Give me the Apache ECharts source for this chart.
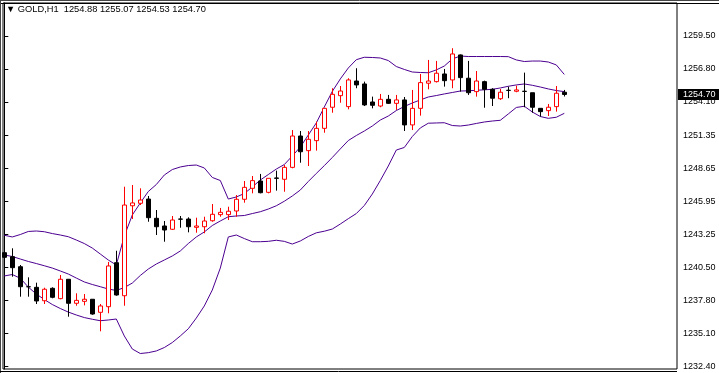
<!DOCTYPE html>
<html><head><meta charset="utf-8">
<script src="https://cdn.jsdelivr.net/npm/echarts@6/dist/echarts.min.js"></script>
<style>html,body{margin:0;padding:0;background:#fff}#c{width:719px;height:373px}</style>
</head><body><div id="c"></div>
<script>
const symbolName = 'GOLD,H1';
const tickLabels = ['1232.40','1235.10','1237.80','1240.50','1243.25','1245.95','1248.65','1251.35','1254.10','1256.80','1259.50'];
const openP = [1241.72,1241.39,1240.57,1238.93,1238.88,1237.78,1238.80,1237.95,1239.54,1237.57,
1237.73,1237.90,1236.83,1237.29,1240.90,1238.19,1245.57,1245.77,1246.12,1244.54,
1243.91,1243.64,1244.48,1244.48,1243.80,1243.85,1244.34,1244.84,1244.84,1245.14,
1246.10,1247.00,1247.60,1246.67,1247.85,1247.74,1248.72,1251.29,1250.09,1250.91,
1251.92,1253.65,1254.60,1253.70,1255.80,1255.56,1254.08,1253.75,1254.30,1253.97,
1254.25,1252.20,1253.56,1255.62,1255.75,1256.38,1255.89,1257.94,1256.03,1254.93,
1255.75,1255.12,1254.35,1255.04,1254.96,1254.96,1254.84,1253.56,1253.37,1253.70,
1254.88];
const highP = [1242.62,1242.08,1240.71,1239.70,1239.26,1238.85,1238.88,1239.89,1239.54,1238.39,
1238.33,1237.90,1237.51,1240.96,1241.88,1247.13,1247.27,1247.00,1246.37,1245.22,
1244.32,1244.73,1244.73,1244.62,1244.59,1244.67,1245.71,1245.39,1245.49,1246.45,
1247.60,1248.01,1248.18,1247.82,1248.45,1248.91,1251.78,1251.70,1251.70,1252.47,
1253.56,1255.21,1255.39,1256.03,1256.85,1255.75,1254.52,1254.74,1254.66,1254.66,
1254.49,1255.07,1256.38,1257.53,1257.45,1256.79,1258.49,1257.98,1257.45,1256.62,
1255.83,1255.21,1255.15,1255.34,1255.42,1256.49,1254.84,1253.56,1253.92,1255.39,
1255.07];
const lowP = [1241.28,1239.75,1238.11,1238.11,1237.51,1237.51,1237.98,1237.90,1236.47,1237.37,
1237.40,1236.63,1235.27,1236.75,1238.19,1237.37,1244.48,1245.63,1244.26,1243.17,
1242.62,1243.58,1243.77,1243.39,1243.36,1243.31,1244.26,1244.67,1244.40,1244.67,
1245.82,1246.59,1246.59,1246.59,1246.81,1246.72,1248.64,1249.10,1248.83,1250.09,
1251.56,1253.20,1254.02,1253.48,1255.21,1253.75,1253.56,1253.65,1253.92,1253.43,
1251.70,1251.78,1252.96,1255.12,1255.68,1255.34,1255.21,1254.93,1254.66,1254.52,
1253.61,1253.75,1254.25,1254.39,1254.88,1253.65,1253.20,1252.88,1252.93,1253.29,
1254.53];
const closeP = [1241.34,1240.49,1238.93,1238.92,1237.76,1238.72,1238.06,1239.54,1237.57,1237.81,
1237.90,1236.69,1237.35,1240.63,1238.25,1245.63,1245.80,1246.04,1244.59,1243.85,
1243.58,1244.40,1244.47,1243.85,1243.91,1244.32,1244.87,1245.03,1245.12,1246.10,
1247.08,1247.63,1246.64,1247.82,1247.82,1248.72,1251.29,1250.00,1251.02,1251.92,
1253.56,1254.71,1254.98,1255.89,1255.48,1253.84,1253.81,1254.30,1253.97,1254.25,
1252.20,1253.56,1255.67,1255.80,1256.44,1255.83,1258.02,1256.08,1254.84,1255.80,
1255.12,1254.39,1254.88,1255.03,1255.07,1254.95,1253.65,1253.29,1253.65,1254.80,
1254.70];
const bandUpper = [1243.15,1243.01,1243.21,1243.46,1243.50,1243.44,1243.29,1243.17,1243.03,1242.76,
1242.47,1242.10,1241.61,1241.12,1240.71,1243.09,1244.81,1245.80,1246.74,1247.31,
1248.09,1248.54,1248.75,1248.87,1248.91,1248.67,1247.89,1247.64,1246.12,1246.29,
1246.57,1247.11,1247.68,1248.13,1248.58,1248.95,1249.65,1250.39,1251.37,1252.36,
1253.67,1254.95,1255.97,1256.87,1257.55,1257.75,1257.73,1257.69,1257.48,1256.99,
1256.75,1256.54,1256.50,1256.48,1256.71,1257.03,1257.61,1257.85,1257.81,1257.81,
1257.81,1257.81,1257.81,1257.80,1257.53,1257.40,1257.44,1257.44,1257.36,1257.12,
1256.34];
const bandMiddle = [1241.53,1241.41,1241.20,1241.00,1240.83,1240.65,1240.46,1240.22,1239.97,1239.64,
1239.32,1239.11,1238.93,1238.74,1238.62,1238.86,1239.23,1239.85,1240.38,1240.79,
1241.12,1241.45,1241.86,1242.47,1243.01,1243.42,1243.95,1244.32,1244.67,1244.73,
1244.77,1244.93,1245.08,1245.30,1245.57,1245.94,1246.37,1246.86,1247.56,1248.22,
1248.86,1249.53,1250.23,1250.92,1251.33,1251.70,1252.11,1252.60,1252.93,1253.38,
1253.71,1254.00,1254.25,1254.49,1254.61,1254.74,1254.86,1254.98,1255.00,1255.04,
1255.08,1255.12,1255.23,1255.37,1255.48,1255.56,1255.45,1255.31,1255.15,1255.02,
1254.93];
const bandLower = [1239.81,1239.93,1239.62,1238.90,1238.33,1237.88,1237.47,1237.14,1236.85,1236.61,
1236.40,1236.26,1236.14,1236.20,1236.28,1234.89,1233.82,1233.45,1233.52,1233.66,
1233.94,1234.35,1234.89,1235.48,1236.36,1237.35,1238.66,1240.46,1243.01,1243.17,
1242.88,1242.62,1242.62,1242.65,1242.74,1242.65,1242.43,1242.68,1243.05,1243.35,
1243.48,1243.66,1244.07,1244.51,1244.93,1245.59,1246.53,1247.64,1248.83,1250.14,
1250.35,1251.25,1251.95,1252.34,1252.36,1252.38,1252.15,1252.11,1252.19,1252.32,
1252.44,1252.52,1252.58,1253.10,1253.63,1253.73,1253.26,1252.89,1252.74,1252.83,
1253.15];

const n = openP.length;
const last = n - 1;
const candles = openP.map((o, i) => [i, o, closeP[i], lowP[i], highP[i]]);
const line = arr => arr.map((v, i) => [i, v]);
const tickValues = tickLabels.map(Number);
const FONT = 'Liberation Sans';
const BAND = '#4b0090';
const header = '\u25BC ' + symbolName + '  ' +
  [openP[last], highP[last], lowP[last], closeP[last]].map(v => v.toFixed(2)).join(' ');

const frameGraphics = [
  {id: 'f1', type: 'line', shape: {x1: 0, y1: 0.5, x2: 719, y2: 0.5}, style: {stroke: '#444', lineWidth: 1}, silent: true},
  {id: 'f2', type: 'line', shape: {x1: 0, y1: 3.5, x2: 719, y2: 3.5}, style: {stroke: '#000', lineWidth: 1}, silent: true},
  {id: 'f3', type: 'line', shape: {x1: 0.5, y1: 0, x2: 0.5, y2: 373}, style: {stroke: '#444', lineWidth: 1}, silent: true},
  {id: 'f4', type: 'line', shape: {x1: 0, y1: 371.5, x2: 677, y2: 371.5}, style: {stroke: '#000', lineWidth: 1}, silent: true}
];

const chart = echarts.init(document.getElementById('c'), null, {renderer: 'canvas'});
chart.setOption({
  animation: false,
  backgroundColor: '#fff',
  title: {text: header, left: 6, top: 5, padding: 0,
    textStyle: {fontFamily: FONT, fontSize: 9.3, fontWeight: 'normal', color: '#000'}},
  grid: {left: 3, top: 3, width: 674, height: 366, show: true, borderColor: '#000', borderWidth: 1, backgroundColor: 'transparent'},
  xAxis: {type: 'value', min: -0.1625, max: 84.0875, show: false, splitLine: {show: false}},
  yAxis: {type: 'value', position: 'right', min: 1232.18, max: 1262.20, scale: true,
    axisLine: {show: true, lineStyle: {color: '#000', width: 1}},
    axisTick: {show: true, customValues: tickValues, length: 4, lineStyle: {color: '#000'}},
    axisLabel: {customValues: tickValues, margin: 6, fontFamily: FONT, fontSize: 9, color: '#000',
      formatter: v => { let best = tickLabels[0], d = 1e9; tickLabels.forEach(t => { const dd = Math.abs(Number(t) - v); if (dd < d) { d = dd; best = t; } }); return best; }},
    splitLine: {show: false}},
  graphic: frameGraphics,
  series: [
    {type: 'line', data: line(bandUpper), symbol: 'none', lineStyle: {color: BAND, width: 1}, z: 2, silent: true},
    {type: 'line', data: line(bandLower), symbol: 'none', lineStyle: {color: BAND, width: 1}, z: 2, silent: true},
    {type: 'line', data: line(bandMiddle), symbol: 'none', lineStyle: {color: BAND, width: 1}, z: 2, silent: true},
    {type: 'candlestick', data: candles, barWidth: 4, z: 3,
      itemStyle: {color: '#fff', color0: '#000', borderColor: '#ff0000', borderColor0: '#000', borderWidth: 1}}
  ]
});

// current price tag on the right axis, positioned through the y scale
const py = chart.convertToPixel({yAxisIndex: 0}, closeP[last]);
chart.setOption({
  graphic: frameGraphics.concat([
    {id: 'pbox', type: 'rect', z: 100, shape: {x: 678, y: Math.round(py) - 5, width: 41, height: 11}, style: {fill: '#000'}, silent: true},
    {id: 'ptxt', type: 'text', z: 101, x: 683, y: Math.round(py) + 0.5, silent: true,
      style: {text: closeP[last].toFixed(2), fill: '#fff', font: '9px "Liberation Sans"', verticalAlign: 'middle', align: 'left'}}
  ])
});
</script></body></html>
